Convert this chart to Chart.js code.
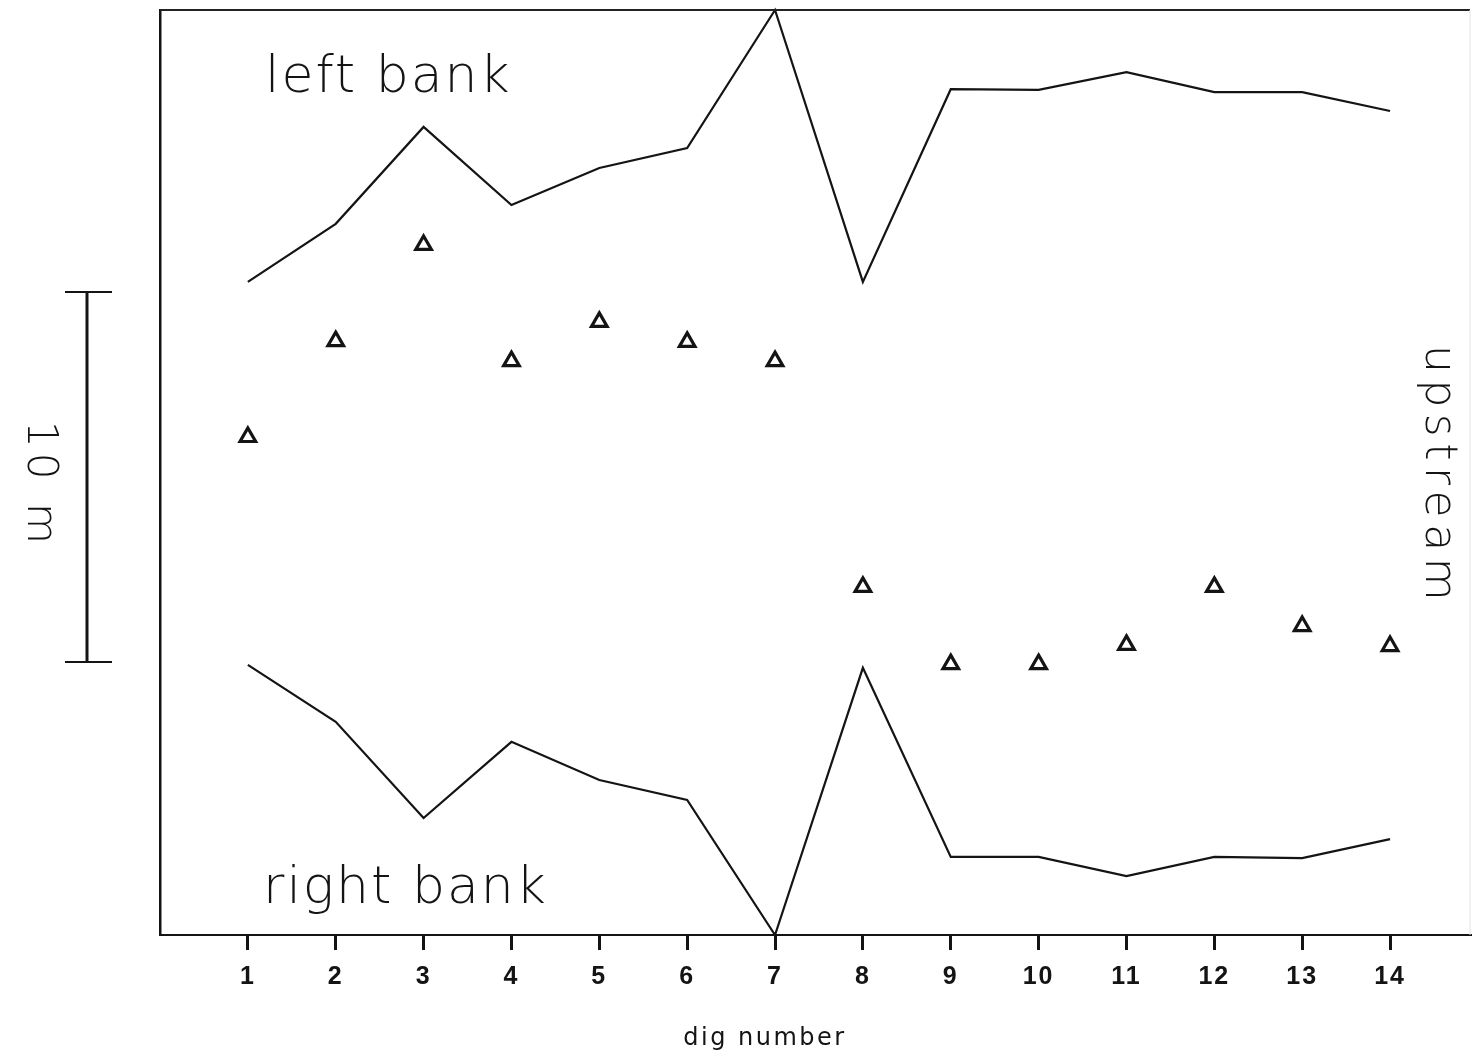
<!DOCTYPE html>
<html>
<head>
<meta charset="utf-8">
<script src="https://cdn.jsdelivr.net/npm/chart.js@4.4.0/dist/chart.umd.min.js"></script>
<style>
  html, body { margin: 0; padding: 0; background: #fff; }
  #c { display: block; }
</style>
</head>
<body>
<canvas id="c" width="1473" height="1057"></canvas>
<script>
// ---- data (metres) ----
const digNumbers = [1, 2, 3, 4, 5, 6, 7, 8, 9, 10, 11, 12, 13, 14];
const leftBank  = [17.65, 19.22, 21.84, 19.73, 20.73, 21.27, 25.0, 17.65, 22.86, 22.84, 23.32, 22.78, 22.78, 22.27];
const rightBank = [7.30, 5.76, 3.16, 5.22, 4.19, 3.65, 0.0, 7.22, 2.11, 2.11, 1.59, 2.11, 2.08, 2.59];
const digPoints = [13.46, 16.05, 18.65, 15.51, 16.57, 16.03, 15.51, 9.41, 7.32, 7.32, 7.84, 9.41, 8.35, 7.81];
const scaleBarMetres = [7.38, 17.38];   // 10 m scale bar
const xRange = [0, 14.91];
const yRange = [0, 25];
const xTitle = 'dig number';

const INK = '#141414';
const LIGHT_FONT = "'DejaVu Sans', 'Open Sans', sans-serif";

const pts = arr => digNumbers.map((d, i) => ({ x: d, y: arr[i] }));

const annotations = {
  id: 'annotations',
  beforeDraw(chart) {
    chart.ctx.letterSpacing = '2px';
  },
  afterDraw(chart) {
    const { ctx, chartArea: a, scales: { y } } = chart;
    ctx.save();
    ctx.fillStyle = INK;

    // top frame edge
    ctx.strokeStyle = '#222';
    ctx.lineWidth = 2;
    ctx.beginPath();
    ctx.moveTo(a.left, a.top); ctx.lineTo(a.right, a.top);
    ctx.stroke();

    // faint right frame edge
    ctx.strokeStyle = '#e2e2e2';
    ctx.lineWidth = 1;
    ctx.beginPath();
    ctx.moveTo(a.right, a.top); ctx.lineTo(a.right, a.bottom);
    ctx.stroke();
    ctx.strokeStyle = INK;

    // scale bar
    const bx = a.left - 73;
    const y0 = y.getPixelForValue(scaleBarMetres[0]);
    const y1 = y.getPixelForValue(scaleBarMetres[1]);
    ctx.lineWidth = 3;
    ctx.beginPath();
    ctx.moveTo(bx, y0); ctx.lineTo(bx, y1);
    ctx.stroke();
    ctx.lineWidth = 2;
    ctx.beginPath();
    ctx.moveTo(bx - 22, y0); ctx.lineTo(bx + 25, y0);
    ctx.moveTo(bx - 22, y1); ctx.lineTo(bx + 25, y1);
    ctx.stroke();

    // rotated "10 m"
    ctx.save();
    ctx.translate(39, (y0 + y1) / 2 + 8);
    ctx.rotate(Math.PI / 2);
    ctx.font = `300 42px ${LIGHT_FONT}`;
    ctx.letterSpacing = '5px';
    ctx.textAlign = 'center';
    ctx.textBaseline = 'middle';
    ctx.fillText('10 m', 0, 0);
    ctx.restore();

    // rotated "upstream"
    ctx.save();
    ctx.translate(a.right - 33, 476);
    ctx.rotate(Math.PI / 2);
    ctx.font = `300 44px ${LIGHT_FONT}`;
    ctx.letterSpacing = '6.5px';
    ctx.textAlign = 'center';
    ctx.textBaseline = 'middle';
    ctx.fillText('upstream', 0, 0);
    ctx.restore();

    // bank labels
    ctx.font = `300 52px ${LIGHT_FONT}`;
    ctx.letterSpacing = '2px';
    ctx.textAlign = 'left';
    ctx.textBaseline = 'alphabetic';
    ctx.fillText('left bank', a.left + 105, a.top + 82);
    ctx.fillText('right bank', a.left + 103, a.bottom - 32);

    // axis title
    ctx.font = `24px ${LIGHT_FONT}`;
    ctx.letterSpacing = '2.5px';
    ctx.textAlign = 'center';
    ctx.textBaseline = 'middle';
    ctx.fillText(xTitle, 765, 1039);

    ctx.restore();
  }
};

new Chart(document.getElementById('c'), {
  type: 'line',
  data: {
    datasets: [
      {
        label: 'left bank',
        data: pts(leftBank),
        borderColor: INK,
        borderWidth: 2.2,
        pointRadius: 0,
        tension: 0,
        fill: false,
        clip: false
      },
      {
        label: 'right bank',
        data: pts(rightBank),
        borderColor: INK,
        borderWidth: 2.2,
        pointRadius: 0,
        tension: 0,
        fill: false,
        clip: false
      },
      {
        label: 'dig',
        data: pts(digPoints),
        showLine: false,
        pointStyle: 'triangle',
        pointRadius: 9,
        pointBorderWidth: 3.2,
        pointBorderColor: INK,
        pointBackgroundColor: '#fff',
        borderColor: INK,
        backgroundColor: '#fff'
      }
    ]
  },
  options: {
    responsive: false,
    animation: false,
    devicePixelRatio: 1,
    events: [],
    layout: { autoPadding: false, padding: { top: 10, right: 3, left: 0, bottom: 0 } },
    plugins: {
      legend: { display: false },
      tooltip: { enabled: false },
      title: { display: false }
    },
    scales: {
      x: {
        type: 'linear',
        position: 'bottom',
        min: xRange[0],
        max: xRange[1],
        afterBuildTicks: s => { s.ticks = digNumbers.map(v => ({ value: v })); },
        afterFit: s => { s.height = 122; s.paddingLeft = 0; s.paddingRight = 0; },
        ticks: {
          color: INK,
          font: { family: "'Liberation Sans', Arial, sans-serif", size: 25, weight: 'bold' },
          padding: 12,
          autoSkip: false,
          maxRotation: 0
        },
        grid: {
          display: true,
          drawOnChartArea: false,
          drawTicks: true,
          tickLength: 15,
          color: INK,
          lineWidth: 3
        },
        border: { display: true, color: INK, width: 2 },
        title: { display: false }
      },
      y: {
        type: 'linear',
        position: 'left',
        min: yRange[0],
        max: yRange[1],
        afterFit: s => { s.width = 160; },
        ticks: { display: false },
        grid: { display: false },
        border: { display: true, color: INK, width: 2.5 }
      }
    }
  },
  plugins: [annotations]
});
</script>
</body>
</html>
